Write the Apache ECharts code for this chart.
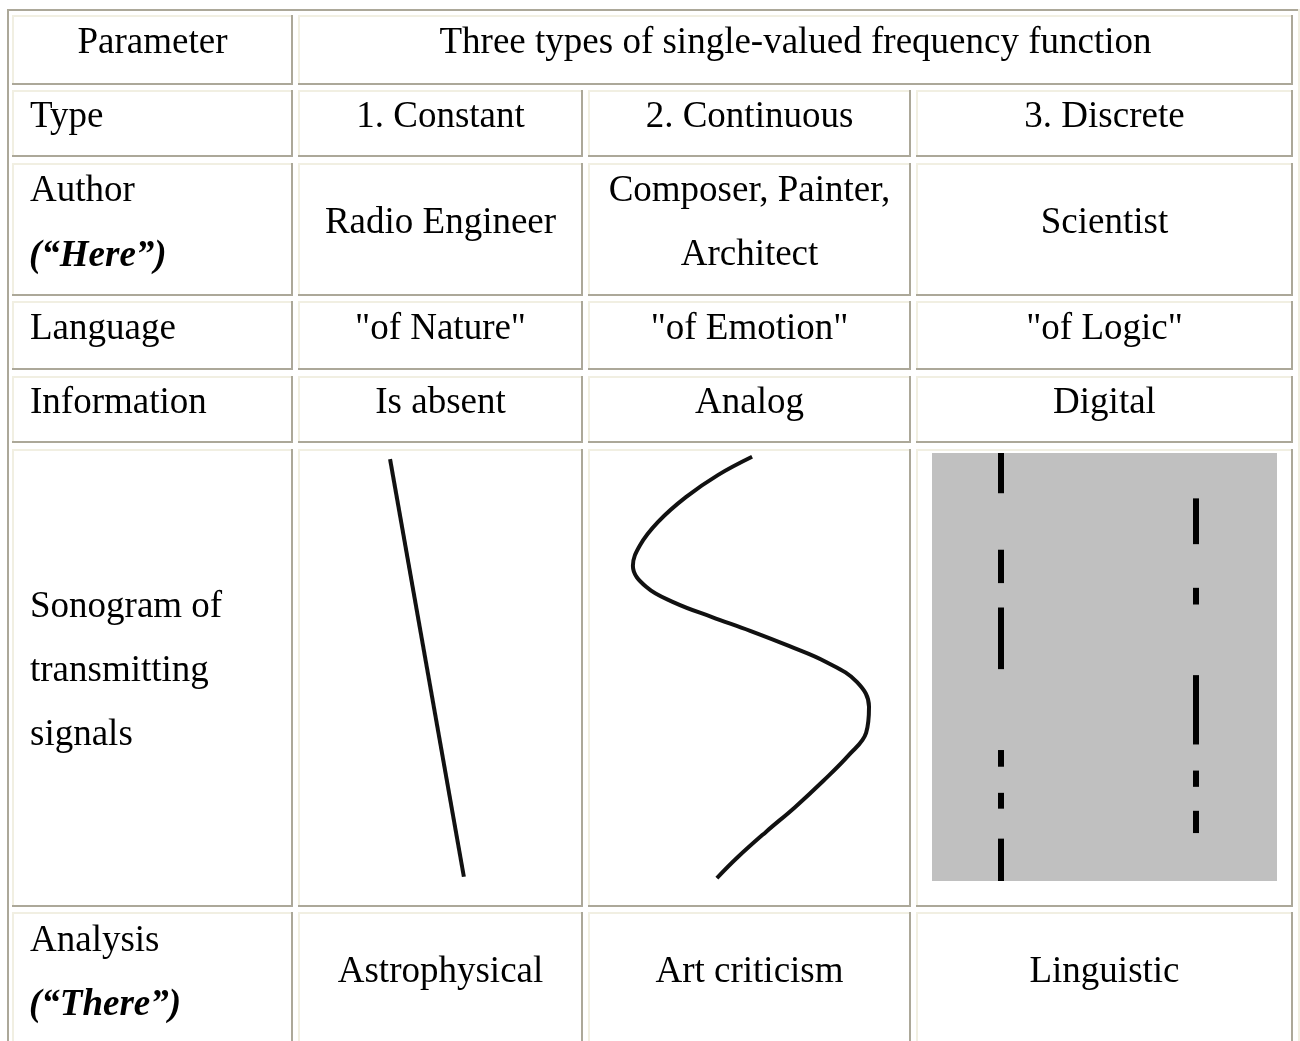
<html>
<head>
<meta charset="utf-8">
<title>Single-valued frequency function</title>
<script src="https://cdn.jsdelivr.net/npm/echarts@6/dist/echarts.min.js"></script>
<style>
  body { margin: 0; background: #fff; }
</style>
</head>
<body>
<div id="main" style="width:1300px; height:1041px;"></div>
<script type="text/javascript">
// table contents
var header = ['Parameter', 'Three types of single-valued frequency function'];
var rowNames = ['Type', 'Author', 'Language', 'Information', 'Sonogram of\ntransmitting\nsignals', 'Analysis'];
var types = ['1. Constant', '2. Continuous', '3. Discrete'];
var authors = ['Radio Engineer', 'Composer, Painter,\nArchitect', 'Scientist'];
var languages = ['"of Nature"', '"of Emotion"', '"of Logic"'];
var information = ['Is absent', 'Analog', 'Digital'];
var analysis = ['Astrophysical', 'Art criticism', 'Linguistic'];

// sonograms, in % of the picture box (x right, y down)
var constantX = [32.3, 58.2];
var constantY = [2.2, 93.4];
var continuousX = [50.8, 40.2, 30.3, 21.7, 16.1, 13.9, 18.0, 26.9, 38.4, 50.2, 62.2, 73.7, 83.3, 87.0, 86.1, 80.8, 72.8, 64.1, 55.1, 46.4, 39.9];
var continuousY = [1.7, 5.7, 10.5, 15.9, 21.0, 25.5, 30.1, 33.6, 36.7, 39.7, 43.0, 46.5, 50.9, 56.3, 62.0, 66.8, 72.5, 78.2, 83.6, 89.1, 93.7];
// discrete: [start, end] of each pulse on the two carriers
var carrierX = [19.8, 76.5];
var pulsesLeft = [[0, 9.4], [22.6, 30.4], [36.1, 50.5], [69.4, 73.3], [79.4, 83.1], [90.1, 100]];
var pulsesRight = [[10.6, 21.3], [31.5, 35.4], [51.9, 68.1], [74.2, 78.0], [83.6, 88.8]];

var dark = '#aca899', light = '#f1efe2';
var font = 'Liberation Serif, Times New Roman, serif';
var fs = 37;

// layout of the cells
var colL = [12, 298, 588, 916];
var colR = [293, 583, 911, 1293];
var rowT = [15, 90, 163, 301, 376, 449, 912];
var rowB = [85, 157, 296, 370, 443, 907, 1090];

var graphics = [];
function rect(x, y, w, h, c) {
    graphics.push({ type: 'rect', shape: { x: x, y: y, width: w, height: h }, style: { fill: c }, silent: true });
}
function cell(x0, y0, x1, y1) {
    rect(x0, y0, x1 - x0, 2, light);
    rect(x0, y0, 2, y1 - y0, light);
    rect(x1 - 2, y0, 2, y1 - y0, dark);
    rect(x0, y1 - 2, x1 - x0, 2, dark);
}
function text(t, x, y, align, extra) {
    var st = { text: t, x: x, y: y + 3, fill: '#000', font: fs + 'px ' + font, align: align, verticalAlign: 'middle', lineHeight: 64 };
    if (extra) st.font = extra + ' ' + fs + 'px ' + font;
    graphics.push({ type: 'text', style: st, silent: true });
}

// outer table border
rect(7, 9, 1291, 2, dark);
rect(7, 9, 2, 1100, dark);
rect(1298, 9, 2, 1100, light);

// header row
cell(colL[0], rowT[0], colR[0], rowB[0]);
cell(colL[1], rowT[0], colR[3], rowB[0]);
for (var r = 1; r < rowT.length; r++) {
    for (var c = 0; c < 4; c++) cell(colL[c], rowT[r], colR[c], rowB[r]);
}

var mid = function (c) { return (colL[c] + colR[c]) / 2; };
text(header[0], mid(0), 40, 'center');
text(header[1], (colL[1] + colR[3]) / 2, 40, 'center');

var lineY = [114, 220, 326, 400];
var rowsData = [types, authors, languages, information];
for (var i = 0; i < 4; i++) {
    for (var j = 0; j < 3; j++) text(rowsData[i][j], mid(j + 1), lineY[i], 'center');
}
text(rowNames[0], 30, 114, 'left');
text(rowNames[1], 30, 188, 'left');
text('(\u201cHere\u201d)', 29, 253, 'left', 'italic bold');
text(rowNames[2], 30, 326, 'left');
text(rowNames[3], 30, 400, 'left');
text(rowNames[4], 30, 668, 'left');
text(rowNames[5], 30, 938, 'left');
text('(\u201cThere\u201d)', 29, 1002, 'left', 'italic bold');
for (var j = 0; j < 3; j++) text(analysis[j], mid(j + 1), 969, 'center');

function zip(xs, ys) { return xs.map(function (x, k) { return [x, ys[k]]; }); }
var pulses = [];
pulsesLeft.forEach(function (p) { pulses.push({ coords: [[carrierX[0], p[0]], [carrierX[0], p[1]]] }); });
pulsesRight.forEach(function (p) { pulses.push({ coords: [[carrierX[1], p[0]], [carrierX[1], p[1]]] }); });

var axisX = function (k) { return { type: 'value', gridIndex: k, min: 0, max: 100, show: false }; };
var axisY = function (k) { return { type: 'value', gridIndex: k, min: 0, max: 100, inverse: true, show: false }; };

var myChart = echarts.init(document.getElementById('main'));
myChart.setOption({
    animation: false,
    backgroundColor: '#fff',
    grid: [
        { left: 298, top: 449, width: 285, height: 458 },
        { left: 588, top: 449, width: 323, height: 458 },
        { left: 932, top: 453, width: 345, height: 428, show: true, backgroundColor: '#c0c0c0', borderWidth: 0 }
    ],
    xAxis: [axisX(0), axisX(1), axisX(2)],
    yAxis: [axisY(0), axisY(1), axisY(2)],
    graphic: graphics,
    series: [
        {
            type: 'line', xAxisIndex: 0, yAxisIndex: 0, symbol: 'none',
            lineStyle: { color: '#111', width: 4 },
            data: zip(constantX, constantY)
        },
        {
            type: 'line', xAxisIndex: 1, yAxisIndex: 1, symbol: 'none', smooth: 0.4,
            lineStyle: { color: '#111', width: 4 },
            data: zip(continuousX, continuousY)
        },
        {
            type: 'lines', coordinateSystem: 'cartesian2d', xAxisIndex: 2, yAxisIndex: 2,
            lineStyle: { color: '#000', width: 6, opacity: 1, curveness: 0 },
            data: pulses
        }
    ]
});
</script>
</body>
</html>
